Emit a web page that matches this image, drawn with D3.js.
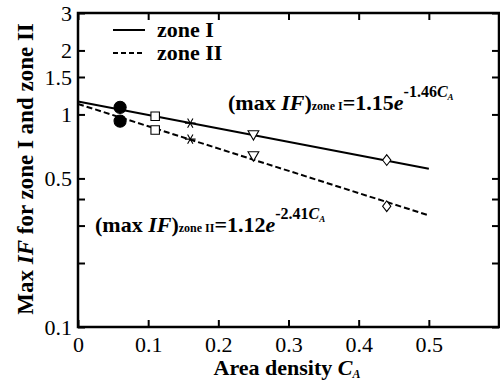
<!DOCTYPE html>
<html>
<head>
<meta charset="utf-8">
<script src="https://cdnjs.cloudflare.com/ajax/libs/d3/7.8.5/d3.min.js"></script>
<style>
  body { margin: 0; background: #fff; }
  svg { font-family: "Liberation Serif", "Times New Roman", serif; }
</style>
</head>
<body>
<div class="svg"></div>
<script>
// data
var areaDensity = [0.06, 0.11, 0.16, 0.25, 0.44];
var zoneOne = [1.08, 0.98, 0.91, 0.81, 0.61];
var zoneTwo = [0.93, 0.845, 0.765, 0.645, 0.37];
var markerKinds = ["circle", "square", "asterisk", "triangle", "diamond"];

// fitted lines (straight on the log axis), end points
var fitX = [0, 0.5];
var fitZoneOne = [1.15, 0.555];
var fitZoneTwo = [1.12, 0.335];

var xTicks = [0, 0.1, 0.2, 0.3, 0.4, 0.5];
var yTicks = [0.1, 0.2, 0.3, 0.4, 0.5, 1, 1.5, 2, 3];
var yLabels = [0.1, 0.5, 1, 1.5, 2, 3];

var width = 500, height = 383;
var margin = {top: 13, right: 1, bottom: 56, left: 78};

var svg = d3.select("div.svg").append("svg")
  .attr("width", width)
  .attr("height", height);

var x = d3.scaleLinear()
  .domain([0, 0.6])
  .range([margin.left, width - margin.right]);

var y = d3.scaleLog()
  .domain([0.1, 3])
  .range([height - margin.bottom, margin.top]);

var fmt = function(d){ return String(d); };

// axes, ticks pointing inward
var xAxis = d3.axisBottom(x).tickValues(xTicks).tickSize(-7).tickPadding(9).tickFormat(fmt);
var yAxis = d3.axisLeft(y).tickValues(yTicks).tickSize(-7).tickPadding(6)
  .tickFormat(function(d){ return yLabels.indexOf(d) >= 0 ? fmt(d) : ""; });

svg.append("g").attr("transform", `translate(0,${height - margin.bottom})`).call(xAxis);
svg.append("g").attr("transform", `translate(${margin.left},0)`).call(yAxis);
svg.append("g").attr("transform", `translate(0,${margin.top})`)
  .call(d3.axisTop(x).tickValues(xTicks).tickSize(-7).tickFormat(""));
svg.append("g").attr("transform", `translate(${width - margin.right},0)`)
  .call(d3.axisRight(y).tickValues(yTicks).tickSize(-7).tickFormat(""));

svg.selectAll("g").attr("font-family", null).attr("font-size", null);
svg.selectAll(".domain").remove();
svg.selectAll(".tick line").attr("stroke", "#000").attr("stroke-width", 2);
svg.selectAll(".tick text")
  .attr("fill", "#000")
  .style("font-family", "'Liberation Serif', serif")
  .style("font-size", "22px");

// frame
svg.append("rect")
  .attr("x", x(0)).attr("y", y(3))
  .attr("width", x(0.6) - x(0))
  .attr("height", y(0.1) - y(3))
  .attr("fill", "none")
  .attr("stroke", "#000")
  .attr("stroke-width", 2.5);

// fitted lines
var line = d3.line()
  .x(function(d){ return x(d[0]); })
  .y(function(d){ return y(d[1]); });

svg.append("path")
  .datum(d3.zip(fitX, fitZoneOne))
  .attr("fill", "none").attr("stroke", "#000").attr("stroke-width", 2)
  .attr("d", line);

svg.append("path")
  .datum(d3.zip(fitX, fitZoneTwo))
  .attr("fill", "none").attr("stroke", "#000").attr("stroke-width", 2)
  .attr("stroke-dasharray", "6,3")
  .attr("d", line);

// markers
var symbolFor = {
  circle: {type: d3.symbolCircle, size: 115, rot: 0, sx: 1, sy: 1, fill: "#000"},
  square: {type: d3.symbolSquare, size: 72, rot: 0, sx: 1, sy: 1, fill: "#fff"},
  asterisk: {type: d3.symbolAsterisk, size: 80, rot: 90, sx: 1, sy: 1, fill: "none"},
  triangle: {type: d3.symbolTriangle, size: 50, rot: 180, sx: 1, sy: 1, fill: "#fff"},
  diamond: {type: d3.symbolDiamond2, size: 60, rot: 0, sx: 0.85, sy: 1.1, fill: "#fff"}
};

function drawPoints(values){
  svg.append("g").selectAll("path")
    .data(values)
    .join("path")
    .attr("d", function(d, i){ return d3.symbol().type(symbolFor[markerKinds[i]].type).size(symbolFor[markerKinds[i]].size)(); })
    .attr("transform", function(d, i){
      var s = symbolFor[markerKinds[i]];
      return `translate(${x(areaDensity[i])},${y(d)}) rotate(${s.rot}) scale(${s.sx},${s.sy})`;
    })
    .attr("fill", function(d, i){ return symbolFor[markerKinds[i]].fill; })
    .attr("stroke", "#000")
    .attr("stroke-width", 1.1);
}
drawPoints(zoneOne);
drawPoints(zoneTwo);

// legend
var legend = svg.append("g");
legend.append("line").attr("x1", 113).attr("x2", 145).attr("y1", 30).attr("y2", 30)
  .attr("stroke", "#000").attr("stroke-width", 2);
legend.append("line").attr("x1", 113).attr("x2", 145).attr("y1", 53).attr("y2", 53)
  .attr("stroke", "#000").attr("stroke-width", 2).attr("stroke-dasharray", "5,3");
legend.append("text").attr("x", 157).attr("y", 37)
  .style("font-size", "22px").style("font-weight", "bold").text("zone I");
legend.append("text").attr("x", 157).attr("y", 60)
  .style("font-size", "22px").style("font-weight", "bold").text("zone II");

// equations
function equation(xp, yp, zone, a, b){
  var t = svg.append("text").attr("x", xp).attr("y", yp)
    .style("font-weight", "bold").style("font-size", "22px");
  t.append("tspan").text("(max ");
  t.append("tspan").style("font-style", "italic").text("IF");
  t.append("tspan").text(")");
  t.append("tspan").style("font-size", "12px").text("zone " + zone);
  t.append("tspan").text("=" + a);
  t.append("tspan").style("font-style", "italic").text("e");
  t.append("tspan").attr("dy", -13).style("font-size", "16px").text("-" + b);
  t.append("tspan").style("font-size", "16px").style("font-style", "italic").text("C");
  t.append("tspan").attr("dy", 3).style("font-size", "9px").style("font-style", "italic").text("A");
}
equation(228, 110, "I", "1.15", "1.46");
equation(95, 232, "II", "1.12", "2.41");

// axis titles
var xt = svg.append("text")
  .attr("x", 287).attr("y", 375)
  .attr("text-anchor", "middle")
  .style("font-weight", "bold").style("font-size", "22px");
xt.append("tspan").text("Area density ");
xt.append("tspan").style("font-style", "italic").text("C");
xt.append("tspan").attr("dy", 3).style("font-size", "12px").style("font-style", "italic").text("A");

var yt = svg.append("text")
  .attr("transform", "translate(33,169) rotate(-90)")
  .attr("text-anchor", "middle")
  .style("font-weight", "bold").style("font-size", "23px");
yt.append("tspan").text("Max ");
yt.append("tspan").style("font-style", "italic").text("IF");
yt.append("tspan").text(" for zone I and zone II");
</script>
</body>
</html>
